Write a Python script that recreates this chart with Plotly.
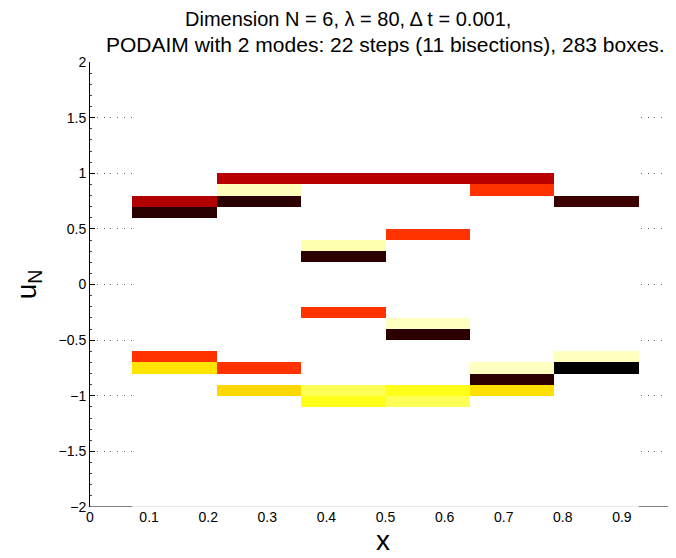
import plotly.graph_objects as go

# ---- data ----
n_cells = 6
cell_width = 1.0 / 7
box_height = 0.1

box_col = [1, 1, 1, 1,
           2, 2, 2, 2, 2,
           3, 3, 3, 3, 3, 3,
           4, 4, 4, 4, 4, 4,
           5, 5, 5, 5, 5,
           6, 6, 6]
box_low = [0.7, 0.6, -0.7, -0.8,
           0.9, 0.8, 0.7, -0.8, -1.0,
           0.9, 0.3, 0.2, -0.3, -1.0, -1.1,
           0.9, 0.4, -0.4, -0.5, -1.0, -1.1,
           0.9, 0.8, -0.8, -0.9, -1.0,
           0.7, -0.7, -0.8]
box_color = ["#b00000", "#2b0000", "#ff3300", "#ffe400",
             "#b80000", "#ffffbb", "#2a0000", "#ff3300", "#ffd800",
             "#b80000", "#ffffb0", "#2d0000", "#ff3300", "#ffff55", "#ffff1a",
             "#b80000", "#ff3300", "#ffffc0", "#2d0000", "#ffff1a", "#ffff55",
             "#b80000", "#ff3300", "#ffffc0", "#2d0000", "#ffe000",
             "#3c0000", "#ffffc0", "#000000"]

x_ticks = [0, 0.1, 0.2, 0.3, 0.4, 0.5, 0.6, 0.7, 0.8, 0.9, 1]
x_ticklabels = ["0", "0.1", "0.2", "0.3", "0.4", "0.5", "0.6", "0.7", "0.8", "0.9", "1"]
y_ticks = [-2, -1.5, -1, -0.5, 0, 0.5, 1, 1.5, 2]
y_ticklabels = ["\u22122", "\u22121.5", "\u22121", "\u22120.5", "0", "0.5", "1", "1.5", "2"]

title_line1 = "Dimension N = 6, \u03bb = 80, \u0394 t = 0.001,"
title_line2 = "PODAIM with 2 modes: 22 steps (11 bisections), 283 boxes."

FONT = "Liberation Sans, Arial, Helvetica, sans-serif"

x_centers = [c * cell_width for c in box_col]

fig = go.Figure()
fig.add_trace(go.Bar(
    x=x_centers,
    y=[box_height] * len(box_low),
    base=box_low,
    width=cell_width,
    marker=dict(color=box_color, line=dict(width=0)),
    hoverinfo="skip",
    showlegend=False,
))

x_lo = 0.5 * cell_width
x_hi = (n_cells + 0.5) * cell_width

shapes = [
    # white patch covering the grid over the box domain
    dict(type="rect", xref="x", yref="y", x0=x_lo, x1=x_hi, y0=-2, y1=2,
         fillcolor="white", line=dict(width=0), layer="between"),
    # bottom axis line pieces
    dict(type="line", xref="x", yref="y", x0=0, x1=x_lo, y0=-2, y1=-2,
         line=dict(color="black", width=1), layer="above"),
    dict(type="line", xref="x", yref="y", x0=x_hi, x1=1.05, y0=-2, y1=-2,
         line=dict(color="black", width=1), layer="above"),
    dict(type="line", xref="x", yref="y", x0=x_lo, x1=x_hi, y0=-2, y1=-2,
         line=dict(color="#d4d4d4", width=1), layer="above"),
]

fig.update_layout(
    width=668, height=550,
    margin=dict(l=82, r=0, t=54, b=51),
    plot_bgcolor="white", paper_bgcolor="white",
    font=dict(family=FONT, size=14, color="black"),
    barmode="overlay",
    bargap=0,
    shapes=shapes,
    annotations=[
        dict(text=title_line1, xref="paper", yref="paper", x=0.4403, y=1,
             yshift=43, xanchor="center", yanchor="middle", showarrow=False,
             font=dict(family=FONT, size=20, color="black")),
        dict(text=title_line2, xref="paper", yref="paper", x=0.5051, y=1,
             yshift=18, xanchor="center", yanchor="middle", showarrow=False,
             font=dict(family=FONT, size=21, color="black")),
    ],
    xaxis=dict(
        range=[0, 0.9915],
        tickvals=x_ticks, ticktext=x_ticklabels,
        ticks="", showgrid=False, zeroline=False, showline=False,
        tickfont=dict(size=14), automargin=False,
        title=dict(text="x", font=dict(size=28), standoff=5),
    ),
    yaxis=dict(
        range=[-2, 2],
        tickvals=y_ticks, ticktext=y_ticklabels,
        ticks="inside", ticklen=5, tickcolor="black",
        minor=dict(dtick=0.1, ticks="inside", ticklen=2, tickcolor="#444", showgrid=False),
        showgrid=True, gridcolor="#666", griddash="1px,5.8px", gridwidth=1,
        zeroline=False, showline=True, linecolor="black", linewidth=1,
        tickfont=dict(size=14), automargin=False,
        title=dict(text="u<sub>N</sub>", font=dict(size=28), standoff=13),
    ),
)

fig.write_html("out.html")
